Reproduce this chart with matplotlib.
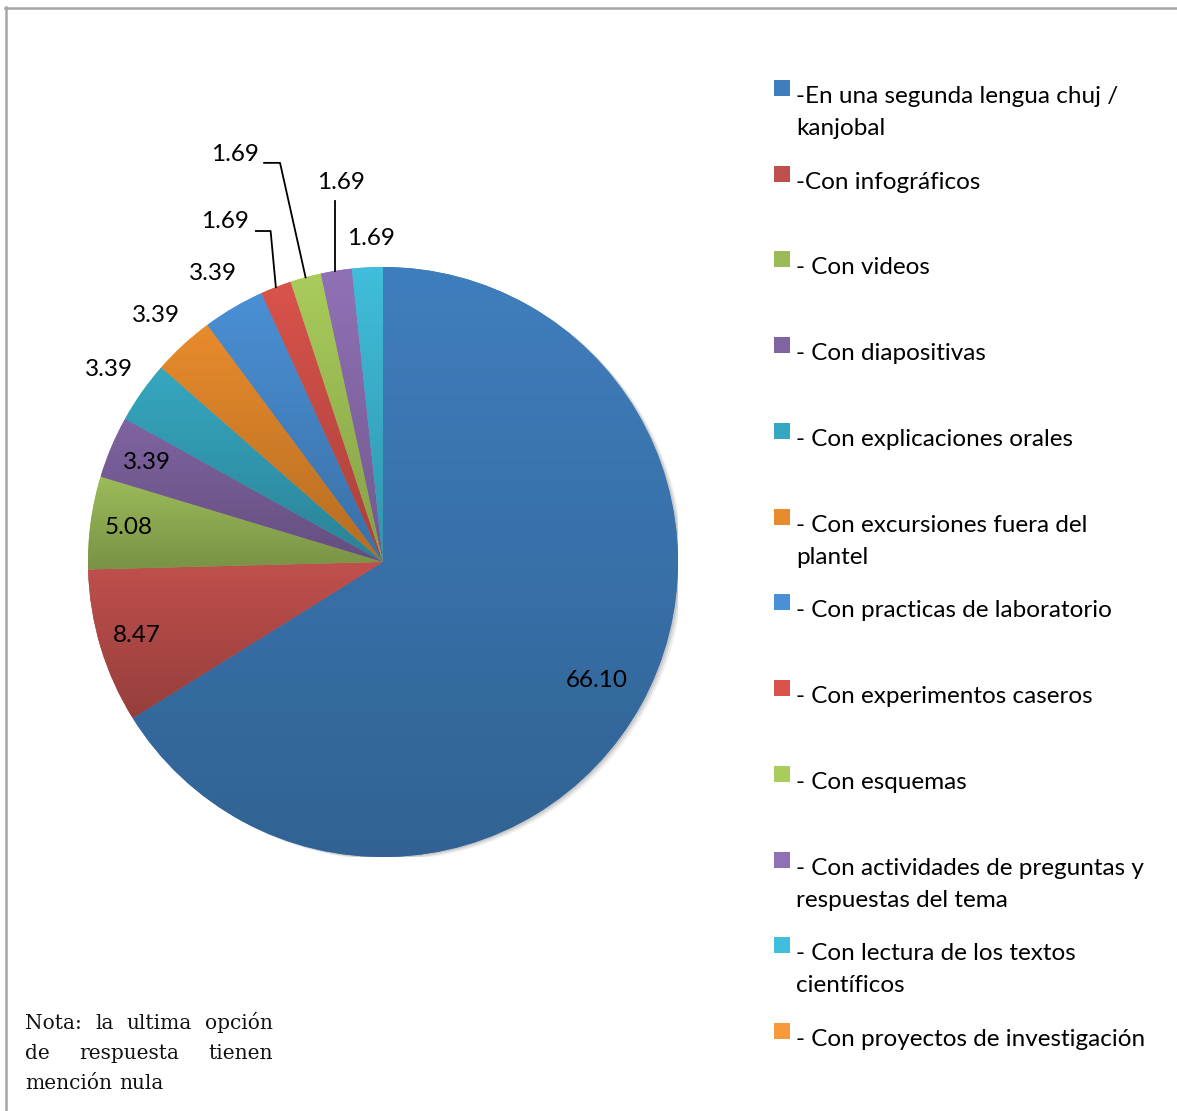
import numpy as np
import matplotlib.pyplot as plt
from matplotlib.patches import Circle, Rectangle
from matplotlib.lines import Line2D
from matplotlib.colors import to_rgb

# data
categories = [
    "-En una segunda lengua chuj /\nkanjobal",
    "-Con infográficos",
    "- Con videos",
    "- Con diapositivas",
    "- Con explicaciones orales",
    "- Con excursiones fuera del\nplantel",
    "- Con practicas de laboratorio",
    "- Con experimentos caseros",
    "- Con esquemas",
    "- Con actividades de preguntas y\nrespuestas del tema",
    "- Con lectura de los textos\ncientíficos",
    "- Con proyectos de investigación",
]
values = [66.10, 8.47, 5.08, 3.39, 3.39, 3.39, 3.39, 1.69, 1.69, 1.69, 1.69, 0.0]
colors = ["#3f7ebd", "#c0504d", "#9bbb59", "#8064a2", "#36a7c0", "#e88b2c",
          "#4a90d5", "#d9534b", "#a9cc5b", "#9171b6", "#40bedb", "#f89a3b"]
note_lines = [["Nota:", "la", "ultima", "opción"],
              ["de", "respuesta", "tienen"],
              ["mención", "nula"]]

W, H = 1177, 1111
FONT = "Lato"

fig = plt.figure(figsize=(W / 100, H / 100), dpi=100)
fig.patch.set_facecolor("white")

# pie axes: center (383, 562) px, radius 295 px
R = 295
ax = fig.add_axes([(383 - R) / W, (H - 562 - R) / H, 2 * R / W, 2 * R / H])
ax.axis("off")

# soft shadow
for k, a in enumerate([0.10, 0.08, 0.06]):
    off = 0.006 * (k + 1)
    ax.add_patch(Circle((off, -off * 0.6), 1.0, color="#000000", alpha=a, lw=0, zorder=0))

wedges, _ = ax.pie(values, colors=colors, startangle=90, counterclock=False,
                   radius=1, wedgeprops=dict(linewidth=0))

# vertical gradient per slice, light at top, darker at bottom
for w, c, v in zip(wedges, colors, values):
    w.set_zorder(1)
    if v <= 0:
        continue
    vs = w.get_path().vertices
    x0, x1 = vs[:, 0].min(), vs[:, 0].max()
    y0, y1 = vs[:, 1].min(), vs[:, 1].max()
    top = np.array(to_rgb(c))
    bot = top * 0.78
    t = np.linspace(0, 1, 128)[:, None, None]
    grad = top * (1 - t) + bot * t
    im = ax.imshow(grad, extent=[x0, x1, y0, y1], origin="upper",
                   aspect="auto", interpolation="bilinear", zorder=2)
    im.set_clip_path(w)

ax.set_aspect("equal")
ax.set_xlim(-1, 1)
ax.set_ylim(-1, 1)

# value labels
total = sum(values)
mids = []
acc = 0.0
for v in values:
    mids.append(np.deg2rad(90 - (acc + v / 2) / total * 360))
    acc += v

label_r = [0.83, 0.87, 0.87, 0.87, 1.135, 1.135, 1.135]
for i, r in enumerate(label_r):
    ax.text(r * np.cos(mids[i]), r * np.sin(mids[i]), f"{values[i]:.2f}",
            ha="center", va="center", fontsize=17.5, family=FONT, color="black", zorder=5)

# small slices with leader lines (text position, line start, elbow)
leaders = {
    7: ((-0.536, 1.153), (-0.431, 1.122), (-0.381, 1.122)),
    8: ((-0.502, 1.380), (-0.403, 1.353), (-0.349, 1.353)),
    9: ((-0.142, 1.288), (-0.162, 1.224), None),
    10: ((-0.041, 1.098), None, None),
}
for i, (txy, start, elbow) in leaders.items():
    ax.text(txy[0], txy[1], f"{values[i]:.2f}", ha="center", va="center",
            fontsize=17.5, family=FONT, color="black", zorder=5)
    if start is None:
        continue
    end = (np.cos(mids[i]), np.sin(mids[i]))
    if elbow is None:
        pts = [start, (start[0], end[1])]
    else:
        pts = [start, elbow, end]
    xs, ys = zip(*pts)
    ax.add_line(Line2D(xs, ys, color="black", lw=1.3, clip_on=False, zorder=5))

# legend drawn by hand to match the layout
leg_step = 85.73
for i, (lab, c) in enumerate(zip(categories, colors)):
    base = 103 + i * leg_step
    fig.add_artist(Rectangle((774 / W, 1 - (base - 7) / H), 16 / W, 16 / H,
                             transform=fig.transFigure, facecolor=c, edgecolor="none"))
    for k, line in enumerate(lab.split("\n")):
        fig.text(796 / W, 1 - (base + k * 32) / H, line, ha="left", va="baseline",
                 fontsize=17.5, family=FONT, color="black")

# justified note at bottom left
renderer = fig.canvas.get_renderer()
nx0, nx1 = 25, 273
for li, words in enumerate(note_lines):
    y = 1 - (1029 + li * 30) / H
    texts = [fig.text(0, y, wd, ha="left", va="baseline", fontsize=14.5,
                      family="DejaVu Serif", color="#111111") for wd in words]
    widths = [t.get_window_extent(renderer).width for t in texts]
    if li < len(note_lines) - 1:
        gap = (nx1 - nx0 - sum(widths)) / (len(words) - 1)
    else:
        gap = 7
    x = nx0
    for t, wd in zip(texts, widths):
        t.set_x(x / W)
        x += wd + gap

# outer frame (top and left edges)
fig.add_artist(Line2D([5 / W, 1], [1 - 7.5 / H] * 2, color="#a6a6a6", lw=1.8,
                      transform=fig.transFigure))
fig.add_artist(Line2D([5.5 / W] * 2, [0, 1 - 7 / H], color="#a6a6a6", lw=1.8,
                      transform=fig.transFigure))

fig.savefig("out.png", dpi=100)
